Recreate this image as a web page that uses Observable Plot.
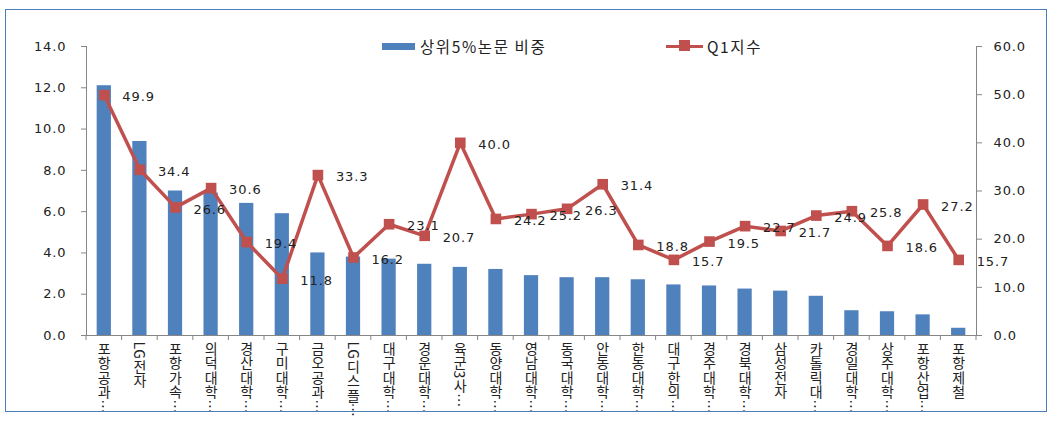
<!DOCTYPE html>
<html><head><meta charset="utf-8">
<script src="https://cdn.jsdelivr.net/npm/d3@7"></script>
<script src="https://cdn.jsdelivr.net/npm/@observablehq/plot@0.6"></script>
<style>
body{margin:0;background:#fff}
#wrap{position:relative;width:1055px;height:421px;overflow:hidden}
#frame{position:absolute;left:5px;top:9px;width:1042px;height:403px;border:1.5px solid #4a7ebb;box-sizing:border-box;pointer-events:none}
#legend{position:absolute;top:36px;left:0;width:1055px;height:20px;font-family:"Noto Sans CJK KR";font-size:15.5px;letter-spacing:1.6px;color:#222}
.item{position:absolute;top:0;height:20px;display:flex;align-items:center}
.sw{display:inline-block;position:relative;margin-right:5px}
</style></head><body>
<div id="wrap"><div id="chart"></div><div id="legend"></div><div id="frame"></div></div>
<script>
const categories = ["포항공과…","LG전자","포항가속…","의덕대학…","경산대학…","구미대학…","금오공과…","LG디스플…","대구대학…","경운대학…","육군3사…","동양대학…","영남대학…","동국대학…","안동대학…","한동대학…","대구한의…","경주대학…","경북대학…","삼성전자","카톨릭대…","경일대학…","상주대학…","포항산업…","포항제철"];
const top5Share = [12.1,9.4,7.0,6.9,6.4,5.9,4.0,3.8,3.7,3.45,3.3,3.2,2.9,2.8,2.8,2.7,2.45,2.4,2.25,2.15,1.9,1.2,1.15,1.0,0.35];
const q1Index = [49.9,34.4,26.6,30.6,19.4,11.8,33.3,16.2,23.1,20.7,40.0,24.2,25.2,26.3,31.4,18.8,15.7,19.5,22.7,21.7,24.9,25.8,18.6,27.2,15.7];
const leftTicks = [0,2,4,6,8,10,12,14];
const rightTicks = [0,10,20,30,40,50,60];
const seriesNames = ["상위5%논문 비중","Q1지수"];
const barColor = "#4F81BD", lineColor = "#C0504D";

const leftMax = 14, rightMax = 60;
const toLeft = v => (v * leftMax) / rightMax;
const rows = categories.map((c, i) => ({cat: c, share: top5Share[i], q1: q1Index[i], q1y: toLeft(q1Index[i])}));

function xCategoryTicks(index, scales, values, dims) {
  const x = scales.x;
  const y0 = dims.height - dims.marginBottom;
  const off = (x.step() - x.bandwidth()) / 2;
  const pos = categories.map(c => x(c) - off);
  pos.push(x(categories[categories.length - 1]) + x.bandwidth() + off);
  const g = d3.create("svg:g").attr("stroke", "#868686");
  g.selectAll("line").data(pos).join("line")
    .attr("x1", d => d).attr("x2", d => d).attr("y1", y0).attr("y2", y0 + 5);
  return g.node();
}

const chart = Plot.plot({
  width: 1055, height: 421,
  marginLeft: 86, marginRight: 79, marginTop: 46, marginBottom: 86,
  style: {fontFamily: "DejaVu Sans", fontSize: "13px", letterSpacing: "0.9px", color: "#222", background: "transparent", overflow: "visible"},
  x: {type: "band", domain: categories, paddingInner: 0.6, paddingOuter: 0.3, round: false, axis: null},
  y: {domain: [0, leftMax], axis: null},
  marks: [
    Plot.barY(rows, {x: "cat", y: "share", fill: barColor}),
    Plot.frame({anchor: "left", stroke: "#868686"}),
    Plot.frame({anchor: "right", stroke: "#868686"}),
    Plot.frame({anchor: "bottom", stroke: "#868686"}),
    Plot.axisY({anchor: "left", ticks: leftTicks, tickFormat: d => d.toFixed(1), tickSize: 5, tickPadding: 15, stroke: "#868686", fill: "#222", label: null}),
    Plot.axisY({anchor: "right", ticks: rightTicks.map(toLeft), tickFormat: d => ((d * rightMax) / leftMax).toFixed(1), tickSize: 5, tickPadding: 12, stroke: "#868686", fill: "#222", label: null}),
    xCategoryTicks,
    Plot.line(rows, {x: "cat", y: "q1y", stroke: lineColor, strokeWidth: 3.5}),
    Plot.dot(rows, {x: "cat", y: "q1y", symbol: "square", r: 6, fill: lineColor, stroke: "none"}),
    Plot.text(rows, {x: "cat", y: "q1y", text: d => d.q1.toFixed(1), dx: 18, dy: 2, textAnchor: "start", fill: "#222"}),
    Plot.text(rows, {x: "cat", y: 0, text: "cat", dy: -4, textAnchor: "start", lineAnchor: "top", fontFamily: "Noto Sans CJK KR", fontSize: 14, fill: "#222", className: "xlab"})
  ]
});
document.getElementById("chart").appendChild(chart);
chart.querySelectorAll(".xlab text").forEach(t => {
  t.removeAttribute("dy");
  t.style.writingMode = "vertical-rl";
  t.style.letterSpacing = "0.5px";
});

// legend
const legend = document.getElementById("legend");
const it1 = document.createElement("div");
it1.className = "item"; it1.style.left = "382px";
it1.innerHTML = `<span class="sw" style="width:33px;height:7px;background:${barColor}"></span>`;
it1.appendChild(document.createTextNode(seriesNames[0]));
const it2 = document.createElement("div");
it2.className = "item"; it2.style.left = "666px";
it2.innerHTML = `<span class="sw" style="width:37px;height:3px;background:${lineColor};margin-right:4px"><span style="position:absolute;left:13px;top:-4.5px;width:11px;height:11px;background:${lineColor}"></span></span>`;
it2.appendChild(document.createTextNode(seriesNames[1]));
legend.appendChild(it1); legend.appendChild(it2);
</script>
</body></html>
